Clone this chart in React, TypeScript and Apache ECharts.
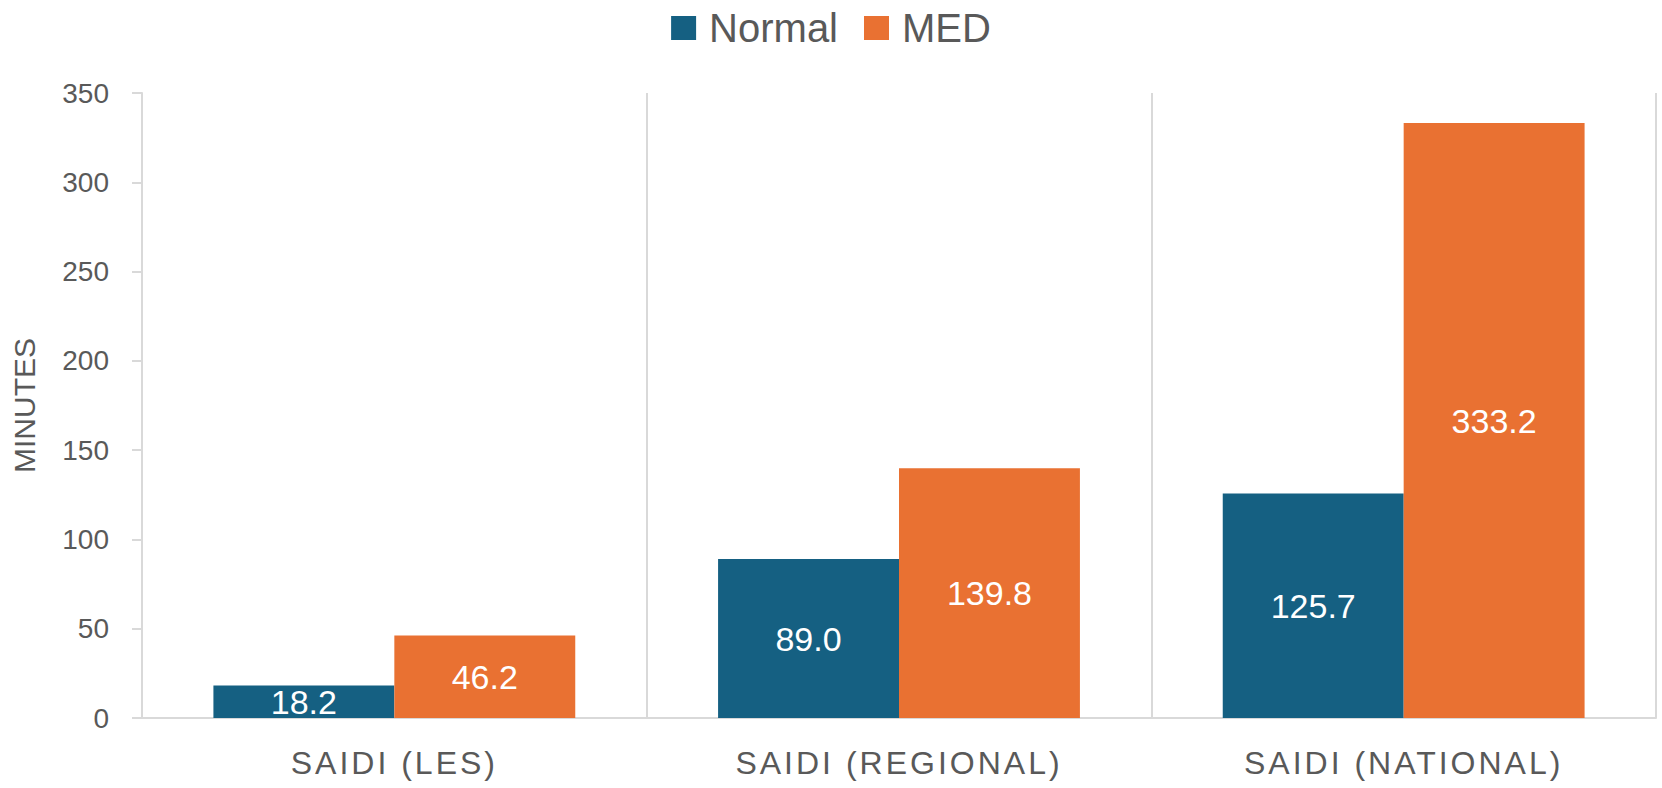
import React, { useEffect, useRef } from "react";
import * as echarts from "echarts";

const categories = ["SAIDI (LES)", "SAIDI (REGIONAL)", "SAIDI (NATIONAL)"];
const normalValues = [18.2, 89.0, 125.7];
const medValues = [46.2, 139.8, 333.2];
const seriesNames = ["Normal", "MED"];
const yAxisTitle = "MINUTES";

const FONT = "'Liberation Sans', Arial, sans-serif";

export default function App() {
  const ref = useRef<HTMLDivElement>(null);
  useEffect(() => {
    if (!ref.current) return;
    const chart = echarts.init(ref.current, null, { renderer: "svg" });
    const labelStyle = {
      show: true,
      position: "inside",
      color: "#ffffff",
      fontSize: 34,
      fontFamily: FONT,
      formatter: (p: any) => Number(p.value).toFixed(1),
    };
    const spaceLabels = () => {
      if (!ref.current) return;
      ref.current.querySelectorAll("text").forEach((t) => {
        if (categories.includes((t.textContent || "").trim())) {
          (t as SVGTextElement).style.letterSpacing = "3px";
        }
      });
    };
    chart.on("finished", spaceLabels);
    chart.setOption({
      animation: false,
      color: ["#156082", "#E97132"],
      legend: {
        data: seriesNames,
        top: 3,
        left: "center",
        itemWidth: 25,
        itemHeight: 24,
        itemGap: 26,
        icon: "rect",
        textStyle: { fontSize: 40, color: "#595959", fontFamily: FONT, padding: [0, 0, 0, 8] },
      },
      grid: { left: 142, right: 6, top: 93, bottom: 70 },
      xAxis: {
        type: "category",
        data: categories,
        axisLine: { show: true, lineStyle: { color: "#D9D9D9", width: 2 } },
        axisTick: { show: false },
        splitLine: { show: true, lineStyle: { color: "#D9D9D9", width: 2 } },
        axisLabel: {
          color: "#595959",
          fontSize: 32,
          fontFamily: FONT,
          margin: 29,
        },
      },
      yAxis: {
        type: "value",
        min: 0,
        max: 350,
        interval: 50,
        name: yAxisTitle,
        nameLocation: "middle",
        nameGap: 103,
        nameTextStyle: { fontSize: 30, color: "#595959", fontFamily: FONT },
        axisLine: { show: true, lineStyle: { color: "#D9D9D9", width: 2 } },
        axisTick: { show: true, length: 10, lineStyle: { color: "#D9D9D9", width: 2 } },
        splitLine: { show: false },
        axisLabel: { color: "#595959", fontSize: 28, fontFamily: FONT, margin: 33 },
      },
      series: [
        {
          name: seriesNames[0],
          type: "bar",
          data: normalValues,
          barGap: "0%",
          barCategoryGap: "28.3%",
          label: labelStyle,
        },
        {
          name: seriesNames[1],
          type: "bar",
          data: medValues,
          barGap: "0%",
          barCategoryGap: "28.3%",
          label: labelStyle,
        },
      ],
    });
    spaceLabels();
    return () => chart.dispose();
  }, []);
  return <div ref={ref} style={{ width: 1662, height: 788, position: "absolute", left: 0, top: 0 }} />;
}
